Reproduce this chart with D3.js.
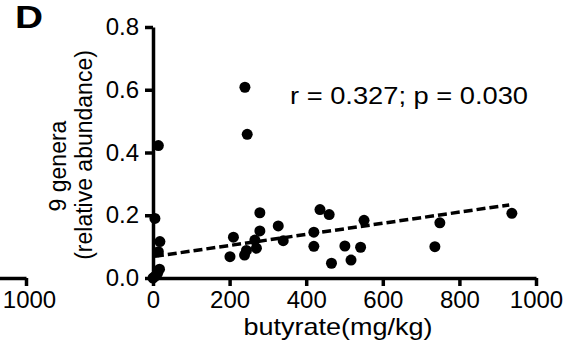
<!DOCTYPE html>
<html>
<head>
<meta charset="utf-8">
<script src="https://cdn.jsdelivr.net/npm/d3@7"></script>
<style>
body{margin:0;background:#fff;}
text{font-family:"Liberation Sans",Arial,sans-serif;fill:#000;}
.axis path,.axis line{stroke:#000;stroke-width:3.5;}
</style>
</head>
<body>
<script>
// data
var butyrate=[0,5,12,17,14,18,5,14,201,210,239,244,266,270,279,279,327,340,420,420,436,460,466,501,517,542,551,736,749,937,240,246];
var abundance=[0.0,0.005,0.015,0.028,0.084,0.116,0.19,0.422,0.068,0.13,0.073,0.088,0.121,0.095,0.208,0.15,0.166,0.119,0.146,0.101,0.218,0.202,0.047,0.102,0.057,0.098,0.184,0.1,0.176,0.206,0.608,0.458];
var fitX=[5,930];
var fitY=[0.069,0.233];
var xticks=[0,200,400,600,800,1000];
var yticks=[0,0.2,0.4,0.6,0.8];
var statText="r = 0.327; p = 0.030";

var width=563,height=349;
var svg=d3.select("body").append("svg").attr("width",width).attr("height",height);

var xscale=d3.scaleLinear().domain([0,1000]).range([153,536]);
var yscale=d3.scaleLinear().domain([0,0.8]).range([278,27]);

var xaxis=d3.axisBottom(xscale).tickValues(xticks).tickFormat(d3.format("d")).tickSizeInner(8).tickSizeOuter(0).tickPadding(6);
var yaxis=d3.axisLeft(yscale).tickValues(yticks).tickFormat(d3.format(".1f")).tickSizeInner(8).tickSizeOuter(0).tickPadding(6);

var gx=svg.append("g").attr("class","axis").attr("transform","translate(0,278)").call(xaxis);
var gy=svg.append("g").attr("class","axis").attr("transform","translate(153,0)").call(yaxis);
svg.selectAll(".axis text").style("font-size","24px").style("font-family","'Liberation Sans',Arial,sans-serif");
gx.selectAll("text").attr("dy","0.68em");

// neighbouring panel's axis, cut off at the left edge
var leftscale=d3.scaleLinear().domain([0,1000]).range([26-383,26]);
var gleft=svg.append("g").attr("class","axis").attr("transform","translate(0,278)")
	.call(d3.axisBottom(leftscale).tickValues([1000]).tickFormat(d3.format("d")).tickSizeInner(8).tickSizeOuter(0).tickPadding(6));
gleft.selectAll("text").style("font-size","24px").attr("dy","0.68em").attr("dx","3");

// regression line
svg.append("path").datum(d3.range(fitX.length))
	.attr("fill","none").attr("stroke","#000").attr("stroke-width",3.5).attr("stroke-dasharray","9,4")
	.attr("d",d3.line().x(function(i){return xscale(fitX[i]);}).y(function(i){return yscale(fitY[i]);}));

// points
svg.append("g").selectAll("circle").data(d3.range(butyrate.length)).enter().append("circle")
	.attr("cx",function(i){return xscale(butyrate[i]);})
	.attr("cy",function(i){return yscale(abundance[i]);})
	.attr("r",5.5).attr("fill","#000");

// labels
svg.append("text").attr("x",338).attr("y",335).attr("text-anchor","middle")
	.attr("textLength",189).attr("lengthAdjust","spacingAndGlyphs")
	.style("font-size","24px").text("butyrate(mg/kg)");
svg.append("text").attr("transform","translate(66,166) rotate(-90)").attr("text-anchor","middle")
	.style("font-size","23px").text("9 genera");
svg.append("text").attr("transform","translate(92,155) rotate(-90)").attr("text-anchor","middle")
	.style("font-size","23px").text("(relative abundance)");
svg.append("text").attr("x",290).attr("y",104)
	.attr("textLength",238).attr("lengthAdjust","spacingAndGlyphs")
	.style("font-size","23px").text(statText);
svg.append("text").attr("x",15).attr("y",28)
	.attr("textLength",28).attr("lengthAdjust","spacingAndGlyphs")
	.style("font-size","32px").style("font-weight","bold").text("D");
</script>
</body>
</html>
